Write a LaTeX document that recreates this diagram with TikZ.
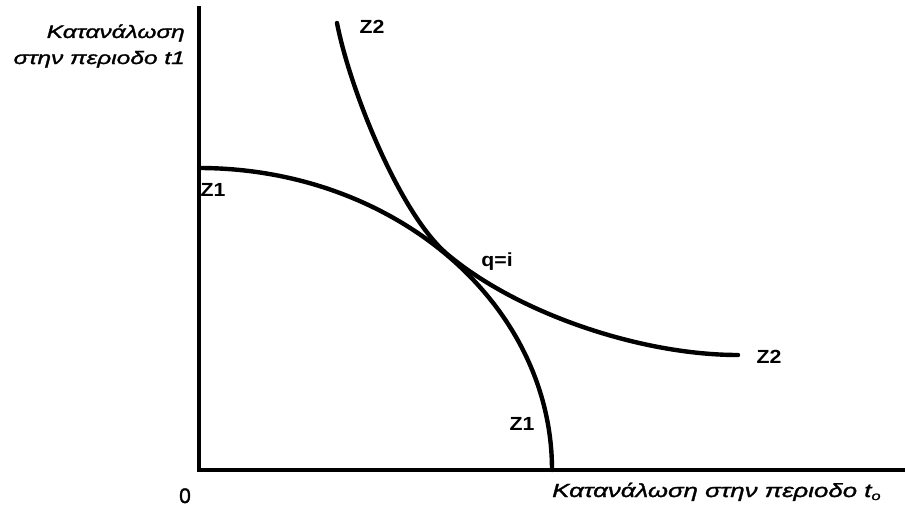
\documentclass[tikz,border=0pt]{standalone}
\usepackage{fontspec}
\setmainfont{Liberation Sans}
\newfontfamily\labfont[FakeStretch=1.36, FakeBold=1.6]{Liberation Sans}
\newfontfamily\zfont[FakeStretch=1.12]{Liberation Sans}
\newfontfamily\zerofont[FakeBold=1.5]{Liberation Sans}
\tikzset{
  axisline/.style={line width=4.4pt, line cap=butt},
  curveline/.style={line width=4.4pt, line cap=round},
  axistext/.style={font=\labfont\fontsize{18}{22}\selectfont\itshape, inner sep=0pt},
  zlabel/.style={font=\zfont\fontsize{19}{22}\selectfont\bfseries, inner sep=0pt},
}
\begin{document}
\begin{tikzpicture}[x=1pt,y=-1pt]
\useasboundingbox (0,0) rectangle (905,511);
% axes
\coordinate (o) at (199,470);
\coordinate (ytop) at (199,6);
\coordinate (xend) at (905,470);
\draw[axisline] (ytop) -- (199,472);
\draw[axisline] (197,470) -- (xend);
% Z1: production possibility frontier
\coordinate (z1a) at (199,168);
\coordinate (z1b) at (552,470);
\draw[curveline] (z1a) arc[start angle=-90, end angle=0, x radius=353, y radius=302];
% Z2: indifference curve
\coordinate (z2a) at (337,23);
\coordinate (t) at (447,254);
\coordinate (z2b) at (738,355);
\draw[curveline] (z2a) .. controls (350,90) and (400,214) .. (t)
                       .. controls (517,313) and (640,355) .. (z2b);
% labels
\node[axistext, anchor=base east] (ylab1) at (185,38) {Κατανάλωση};
\node[axistext, anchor=base east] (ylab2) at (185,64) {στην περιοδο t1};
\node[axistext, font=\labfont\fontsize{19}{22}\selectfont\itshape, anchor=base west] (xlab) at (552,497) {Κατανάλωση στην περιοδο t\raisebox{-0.3ex}{\fontsize{12}{12}\selectfont o}};
\node[font=\zerofont\fontsize{21}{24}\selectfont, inner sep=0pt, anchor=base] (zero) at (185,503) {0};
\node[zlabel] (lz2top) at (372,27) {Z2};
\node[zlabel] (lz1top) at (213,190) {Z1};
\node[zlabel] (lq) at (497,262) {q=i};
\node[zlabel] (lz2r) at (769,357) {Z2};
\node[zlabel] (lz1b) at (522,424) {Z1};
\end{tikzpicture}
\end{document}
